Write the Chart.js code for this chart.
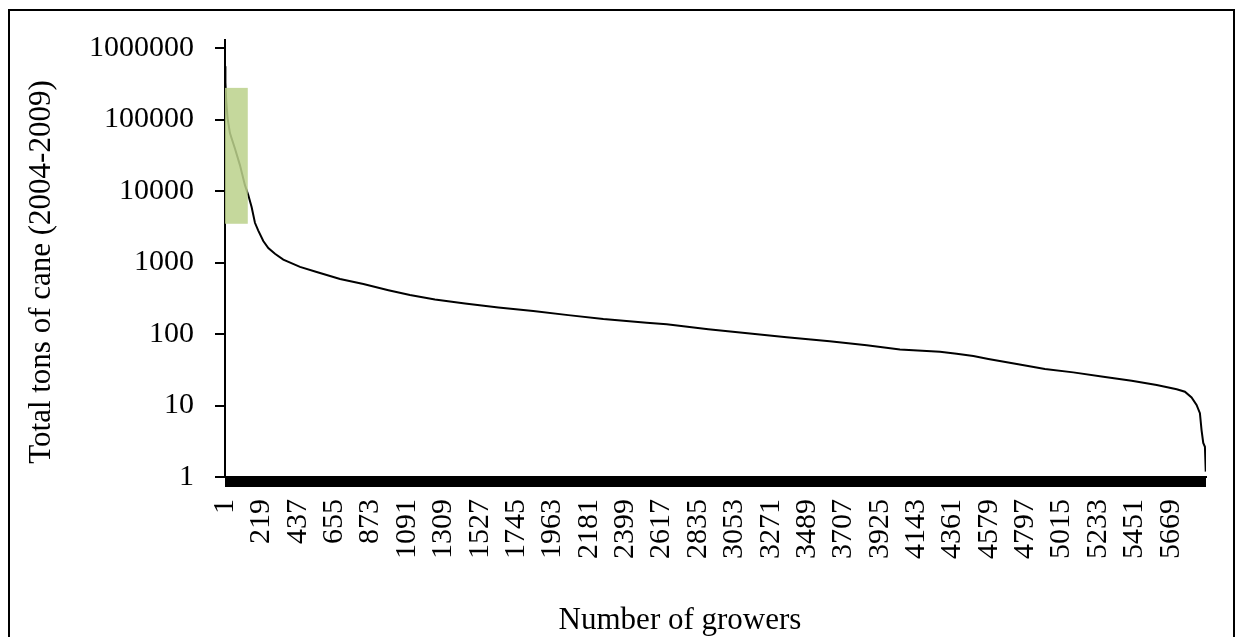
<!DOCTYPE html>
<html>
<head>
<meta charset="utf-8">
<script src="https://cdn.jsdelivr.net/npm/chart.js@4/dist/chart.umd.min.js"></script>
<style>
  html, body { margin: 0; padding: 0; background: #fff; }
  #wrap { position: relative; width: 1238px; height: 637px; overflow: hidden; }
  #frame { position: absolute; left: 8px; top: 9px; width: 1227px; height: 700px;
           border: 2px solid #000; box-sizing: border-box; }
  canvas { position: absolute; left: 0; top: 0; }
</style>
</head>
<body>
<div id="wrap">
  <div id="frame"></div>
  <canvas id="chart" width="1238" height="637"></canvas>
</div>
<script>
// Growers ranked by total cane delivered, largest first
const growerCount = 5880;
const growerRank = [1, 3, 8, 16, 30, 60, 90, 120, 140, 160, 180, 200, 230, 260, 300, 350,
  450, 550, 690, 830, 980, 1109, 1259, 1439, 1639, 1848, 2058, 2268, 2528, 2648, 2897,
  3147, 3367, 3625, 3847, 4046, 4286, 4386, 4486, 4576, 4755, 4915, 5085, 5265, 5435, 5585,
  5705, 5754, 5794, 5824, 5844, 5854, 5864, 5874, 5879];
const totalTons = [560000, 330000, 180000, 105000, 64700, 39500, 23100, 12100, 8800, 6000,
  3600, 2800, 2000, 1600, 1330, 1100, 870, 740, 590, 500, 410, 351, 305, 268, 236, 210,
  184, 162, 144, 137, 117, 102, 90, 79, 69.5, 61, 56.5, 53.2, 49.2, 44.7, 37.7, 32.4, 29.1,
  25.3, 22.2, 19.4, 16.9, 15.6, 13.0, 10.2, 7.8, 4.5, 3.0, 2.65, 1.19];

// Axis tick labels
const xTickLabels = ['1', '219', '437', '655', '873', '1091', '1309', '1527', '1745', '1963',
  '2181', '2399', '2617', '2835', '3053', '3271', '3489', '3707', '3925', '4143', '4361',
  '4579', '4797', '5015', '5233', '5451', '5669'];
const yTickValues = [1, 10, 100, 1000, 10000, 100000, 1000000];

// Large-grower group marked with a shaded box
const highlightRanks = [0.5, 137];
const highlightTons = [3490, 278000];

const xTitle = 'Number of growers';
const yTitle = 'Total tons of cane (2004-2009)';

const FONT = '"Liberation Serif", "Times New Roman", serif';
const xLabelSet = new Set(xTickLabels.map(Number));

const highlightBox = {
  id: 'highlightBox',
  afterDatasetsDraw(chart) {
    const { ctx, scales: { x, y } } = chart;
    const x0 = x.getPixelForValue(highlightRanks[0]);
    const x1 = x.getPixelForValue(highlightRanks[1]);
    const y0 = y.getPixelForValue(highlightTons[1]);
    const y1 = y.getPixelForValue(highlightTons[0]);
    ctx.save();
    ctx.fillStyle = 'rgba(188, 210, 140, 0.86)';
    ctx.fillRect(x0, y0, x1 - x0, y1 - y0);
    ctx.restore();
  }
};

const axisTitles = {
  id: 'axisTitles',
  afterDraw(chart) {
    const { ctx, chartArea } = chart;
    ctx.save();
    ctx.fillStyle = '#000';
    ctx.font = '31px ' + FONT;
    ctx.textAlign = 'center';
    ctx.textBaseline = 'middle';
    ctx.fillText(xTitle, chartArea.left + 455, chartArea.bottom + 144);
    ctx.translate(chartArea.left - 183, chartArea.top + 232);
    ctx.rotate(-Math.PI / 2);
    ctx.fillText(yTitle, 0, 0);
    ctx.restore();
  }
};

new Chart(document.getElementById('chart'), {
  type: 'line',
  data: {
    datasets: [{
      data: growerRank.map((r, i) => ({ x: r, y: totalTons[i] })),
      borderColor: '#000',
      borderWidth: 2,
      pointRadius: 0,
      tension: 0,
      fill: false
    }]
  },
  options: {
    responsive: false,
    animation: false,
    devicePixelRatio: 1,
    layout: { padding: { left: 0, top: 40, right: 32, bottom: 0 } },
    plugins: { legend: { display: false }, tooltip: { enabled: false } },
    scales: {
      x: {
        type: 'linear',
        min: 0.5,
        max: growerCount + 0.5,
        afterBuildTicks(scale) {
          const ticks = [];
          for (let i = 1; i <= growerCount; i++) ticks.push({ value: i });
          scale.ticks = ticks;
        },
        afterFit(scale) {
          scale.height = 160;
          scale.paddingLeft = 0;
          scale.paddingRight = 0;
        },
        ticks: {
          autoSkip: false,
          minRotation: 90,
          maxRotation: 90,
          padding: 12,
          color: '#000',
          font: { family: FONT, size: 30 },
          callback: (v) => xLabelSet.has(v) ? String(v) : ''
        },
        grid: { drawOnChartArea: false, drawTicks: true, tickLength: 10, color: '#000', lineWidth: 1 },
        border: { display: true, color: '#000', width: 2 }
      },
      y: {
        type: 'logarithmic',
        min: 1,
        max: 1300000,
        afterBuildTicks(scale) { scale.ticks = yTickValues.map(v => ({ value: v })); },
        afterFit(scale) { scale.width = 225; },
        ticks: {
          padding: 21,
          color: '#000',
          font: { family: FONT, size: 30 },
          callback: (v) => String(v)
        },
        grid: { drawOnChartArea: false, drawTicks: true, tickLength: 10, color: '#000', lineWidth: 2 },
        border: { display: true, color: '#000', width: 2 }
      }
    }
  },
  plugins: [highlightBox, axisTitles]
});
</script>
</body>
</html>
